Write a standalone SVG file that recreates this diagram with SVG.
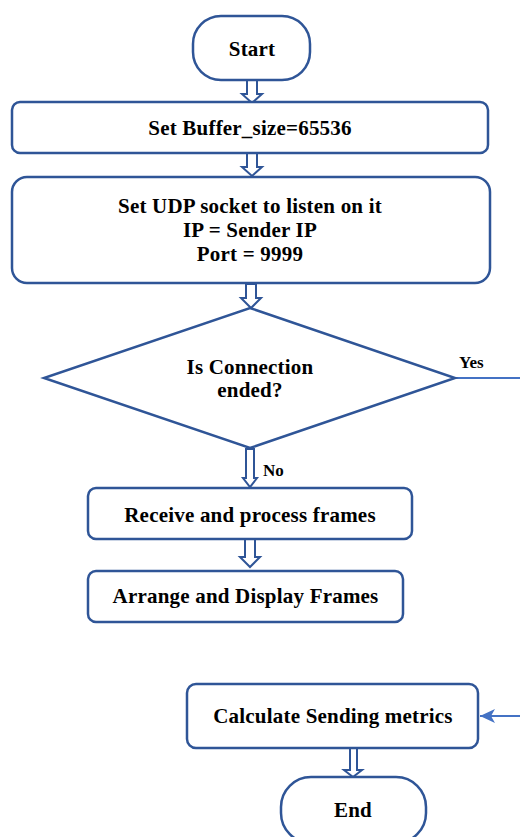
<svg xmlns="http://www.w3.org/2000/svg" width="520" height="837" viewBox="0 0 520 837">
<style>
.n{fill:#fff;stroke:#2F5597;stroke-width:2.5}
.a{fill:#fff;stroke:#2F5597;stroke-width:2;stroke-linejoin:miter}
.t{font-weight:bold;font-size:21px;letter-spacing:0.2px;fill:#000;text-anchor:middle}
.l{font-weight:bold;font-size:17px;fill:#000}
.c{stroke:#4472C4;stroke-width:2;fill:none}
</style>
<defs>
<marker id="ah" markerWidth="16" markerHeight="14" refX="15" refY="7" orient="auto" markerUnits="userSpaceOnUse">
<path d="M0,0 L15,7 L0,14 L4,7 Z" fill="#4472C4"/>
</marker>
</defs>
<g font-family="Liberation Serif, serif">
<g id="connectors">
<path class="a" d="M247,80 L257,80 L257,94 L262,94 L252,103 L242,94 L247,94 Z"/>
<path class="a" d="M247,153 L257,153 L257,167 L262,167 L252,176 L242,167 L247,167 Z"/>
<path class="a" d="M246,284 L256,284 L256,298 L261,298 L251,308 L241,298 L246,298 Z"/>
<path class="a" d="M246,449 L254,449 L254,478 L257,478 L250,487 L243,478 L246,478 Z"/>
<path class="a" d="M245,539 L255,539 L255,557 L260,557 L250,567 L240,557 L245,557 Z"/>
<path class="a" d="M350,748 L357,748 L357,770 L362,770 L353,777 L344,770 L350,770 Z"/>
<line class="c" x1="455" y1="378" x2="520" y2="378"/>
<line class="c" x1="520" y1="716" x2="480" y2="716" marker-end="url(#ah)"/>
<text class="l" x="459" y="368">Yes</text>
<text class="l" x="263" y="476">No</text>
</g>
<g id="start">
<rect class="n" x="193" y="16" width="117" height="64" rx="28"/>
<text class="t" x="252" y="56">Start</text>
</g>
<g id="buffer">
<rect class="n" x="12" y="102" width="476" height="51" rx="8"/>
<text class="t" x="250" y="135">Set Buffer_size=65536</text>
</g>
<g id="socket">
<rect class="n" x="12" y="177" width="478" height="106" rx="15"/>
<text class="t" x="250" y="213">Set UDP socket to listen on it</text>
<text class="t" x="250" y="237">IP = Sender IP</text>
<text class="t" x="250" y="261">Port = 9999</text>
</g>
<g id="decision">
<polygon class="n" points="250,308 455,378 250,448 44,378"/>
<text class="t" x="250" y="374">Is Connection</text>
<text class="t" x="250" y="397">ended?</text>
</g>
<g id="receive">
<rect class="n" x="88" y="488" width="324" height="51" rx="8"/>
<text class="t" x="250" y="522">Receive and process frames</text>
</g>
<g id="arrange">
<rect class="n" x="88" y="571" width="315" height="51" rx="8"/>
<text class="t" x="245.5" y="603">Arrange and Display Frames</text>
</g>
<g id="calculate">
<rect class="n" x="187" y="684" width="291" height="64" rx="9"/>
<text class="t" x="333" y="723">Calculate Sending metrics</text>
</g>
<g id="end">
<rect class="n" x="281" y="777" width="145" height="66" rx="30"/>
<text class="t" x="353" y="817">End</text>
</g>
</g>
</svg>
